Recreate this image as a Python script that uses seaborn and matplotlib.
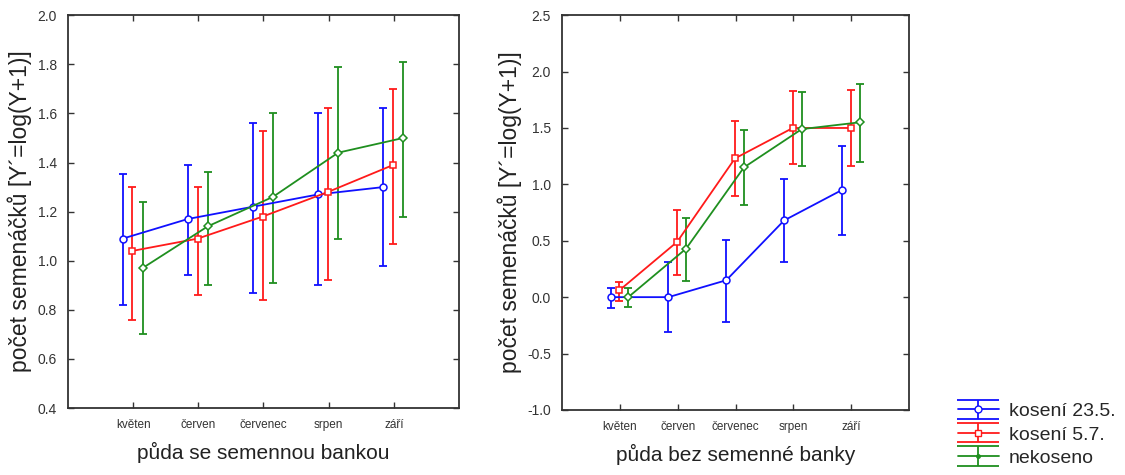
import numpy as np
import pandas as pd
import matplotlib
matplotlib.use("Agg")
import matplotlib.pyplot as plt
import seaborn as sns

months = ["květen", "červen", "červenec", "srpen", "září"]
series = ["kosení 23.5.", "kosení 5.7.", "nekoseno"]

# left panel: půda se semennou bankou
left_mean = {
    "kosení 23.5.": [1.09, 1.17, 1.22, 1.27, 1.30],
    "kosení 5.7.":  [1.04, 1.09, 1.18, 1.28, 1.39],
    "nekoseno":     [0.97, 1.14, 1.26, 1.44, 1.50],
}
left_low = {
    "kosení 23.5.": [0.82, 0.94, 0.87, 0.90, 0.98],
    "kosení 5.7.":  [0.76, 0.86, 0.84, 0.92, 1.07],
    "nekoseno":     [0.70, 0.90, 0.91, 1.09, 1.18],
}
left_high = {
    "kosení 23.5.": [1.355, 1.39, 1.56, 1.60, 1.62],
    "kosení 5.7.":  [1.30, 1.30, 1.53, 1.62, 1.70],
    "nekoseno":     [1.24, 1.36, 1.60, 1.79, 1.81],
}

# right panel: půda bez semenné banky
right_mean = {
    "kosení 23.5.": [0.00, 0.00, 0.15, 0.68, 0.95],
    "kosení 5.7.":  [0.06, 0.49, 1.23, 1.50, 1.50],
    "nekoseno":     [0.00, 0.43, 1.15, 1.49, 1.55],
}
right_low = {
    "kosení 23.5.": [-0.10, -0.31, -0.22, 0.31, 0.55],
    "kosení 5.7.":  [-0.03, 0.20, 0.90, 1.18, 1.16],
    "nekoseno":     [-0.09, 0.14, 0.82, 1.16, 1.20],
}
right_high = {
    "kosení 23.5.": [0.08, 0.31, 0.51, 1.05, 1.34],
    "kosení 5.7.":  [0.13, 0.77, 1.56, 1.83, 1.84],
    "nekoseno":     [0.08, 0.70, 1.48, 1.82, 1.89],
}

colors = {"kosení 23.5.": "#1010ff", "kosení 5.7.": "#ff1a1a", "nekoseno": "#1f8f1f"}
markers = {"kosení 23.5.": "o", "kosení 5.7.": "s", "nekoseno": "D"}
offsets = {"kosení 23.5.": -0.16, "kosení 5.7.": -0.01, "nekoseno": 0.145}

sns.set_style("ticks")
plt.rcParams["font.family"] = ["Liberation Sans", "DejaVu Sans"]

fig = plt.figure(figsize=(11.25, 4.75), dpi=100)
axL = fig.add_axes([0.0604, 0.141, 0.3476, 0.827])
axR = fig.add_axes([0.4996, 0.137, 0.3084, 0.831])


def draw(ax, mean, low, high, ylim, yticks, xlabel):
    rows = []
    for s in series:
        for i, m in enumerate(months):
            rows.append({"x": i + 1 + offsets[s], "y": mean[s][i], "série": s,
                         "lo": low[s][i], "hi": high[s][i]})
    df = pd.DataFrame(rows)
    for s in series:
        d = df[df["série"] == s]
        ax.errorbar(d["x"], d["y"], yerr=[d["y"] - d["lo"], d["hi"] - d["y"]],
                    fmt="none", ecolor=colors[s], elinewidth=1.3, capsize=3,
                    capthick=1.3, zorder=2)
        sns.lineplot(data=d, x="x", y="y", color=colors[s], marker=markers[s],
                     ax=ax, markersize=5 if s != "nekoseno" else 4.5,
                     markerfacecolor="white", markeredgecolor=colors[s],
                     markeredgewidth=1.1, linewidth=1.3, legend=False,
                     sort=True, zorder=3)
    ax.set_xlim(0, 6)
    ax.set_ylim(*ylim)
    ax.set_yticks(yticks)
    ax.set_yticklabels([f"{t:.1f}" for t in yticks], fontsize=10, color="#333333")
    ax.set_xticks(range(1, 6))
    ax.set_xticklabels(months, fontsize=8.5, color="#333333")
    ax.tick_params(direction="in", top=True, right=True, length=4, width=1,
                   color="#333333", pad=8)
    ax.tick_params(axis="x", pad=8)
    for sp in ax.spines.values():
        sp.set_linewidth(1.3)
        sp.set_color("#333333")
    ax.set_xlabel(xlabel, fontsize=15, color="#222222", labelpad=8)
    ax.set_ylabel("počet semenáčků [Y´=log(Y+1)]", fontsize=16.5, color="#222222",
                  labelpad=4)


draw(axL, left_mean, left_low, left_high, (0.4, 2.0),
     [0.4, 0.6, 0.8, 1.0, 1.2, 1.4, 1.6, 1.8, 2.0], "půda se semennou bankou")
draw(axR, right_mean, right_low, right_high, (-1.0, 2.5),
     [-1.0, -0.5, 0.0, 0.5, 1.0, 1.5, 2.0, 2.5], "půda bez semenné banky")

# legend handles drawn on an off-canvas helper axes (no ticks / labels)
axH = fig.add_axes([2.0, 2.0, 0.1, 0.1])
axH.set_axis_off()
handles = []
for s in series:
    h = axH.errorbar([0], [0], yerr=[1], color=colors[s],
                     marker=markers[s] if s != "nekoseno" else ".",
                     markersize=5, markerfacecolor="white" if s != "nekoseno" else colors[s],
                     markeredgecolor=colors[s], capsize=15, capthick=1.3,
                     linewidth=1.3, elinewidth=1.3)
    handles.append(h)
fig.legend(handles, series, loc="lower left", bbox_to_anchor=(0.836, -0.02),
           frameon=False, fontsize=14, handlelength=2.1, handletextpad=0.5,
           labelspacing=0.3)

fig.savefig("out.png", dpi=100)
